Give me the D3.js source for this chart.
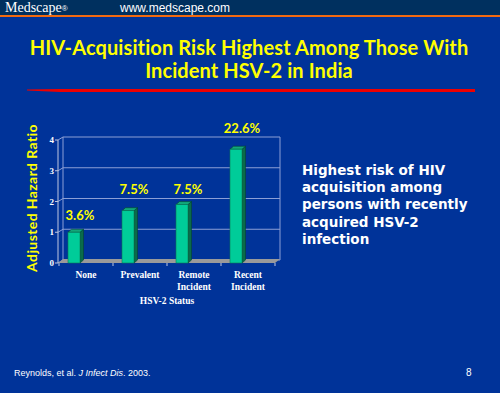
<!DOCTYPE html>
<html>
<head>
<meta charset="utf-8">
<script src="https://cdn.jsdelivr.net/npm/d3@7/dist/d3.min.js"></script>
<style>
  body { margin: 0; background: #003399; }
  svg { display: block; }
</style>
</head>
<body>
<script>
//chart data
var categories = [["None"], ["Prevalent"], ["Remote", "Incident"], ["Recent", "Incident"]];
var hazardRatios = [1.0, 1.7, 1.9, 3.7];
var riskLabels = ["3.6%", "7.5%", "7.5%", "22.6%"];
var labelLevels = [1.45, 2.3, 2.3, 4.3];
var yTicks = [0, 1, 2, 3, 4];

var titleLines = ["HIV-Acquisition Risk Highest Among Those With", "Incident HSV-2 in India"];
var noteLines = ["Highest risk of HIV", "acquisition among", "persons with recently", "acquired HSV-2", "infection"];

var width = 500,
    height = 393;

var svg = d3.select("body")
    .append("svg")
    .attr("width", width)
    .attr("height", height);

//slide background
svg.append("rect")
    .attr("width", width)
    .attr("height", height)
    .attr("fill", "#003399");

//header bar
svg.append("rect")
    .attr("width", width)
    .attr("height", 15)
    .attr("fill", "#00305f");
svg.append("rect")
    .attr("y", 15)
    .attr("width", width)
    .attr("height", 2)
    .attr("fill", "#f26a10");

var brand = svg.append("text")
    .attr("x", 5)
    .attr("y", 12)
    .attr("fill", "#fff")
    .style("font-family", "Liberation Serif")
    .style("font-size", "14px")
    .text("Medscape");
brand.append("tspan")
    .style("font-size", "8px")
    .style("font-family", "Liberation Sans")
    .attr("dy", -1)
    .text("®");

svg.append("text")
    .attr("x", 120)
    .attr("y", 12)
    .attr("fill", "#fff")
    .style("font-family", "Liberation Sans")
    .style("font-size", "12px")
    .text("www.medscape.com");

//title
svg.selectAll(".title")
    .data(titleLines)
    .enter()
    .append("text")
    .attr("class", "title")
    .attr("x", 249)
    .attr("y", function(d, i){ return 55 + i * 23; })
    .attr("text-anchor", "middle")
    .attr("fill", "#ffff00")
    .style("font-family", "Lato")
    .style("font-weight", "bold")
    .style("font-size", "20px")
    .style("letter-spacing", "0.1px")
    .text(function(d){ return d; });

//red rule under title
svg.append("path")
    .attr("d", "M27,89.6 L60,89 L475,89 L475,92 L60,92 L27,90.4 Z")
    .attr("fill", "#ee0000");

//plot geometry
var depth = 5, bDepth = 3.5, rise = 3;

var x = d3.scaleBand()
    .domain(d3.range(categories.length))
    .range([58, 274]);

var y = d3.scaleLinear()
    .domain([0, 4])
    .range([260, 137]);

var plot = svg.append("g");

//back wall gridlines
plot.selectAll(".grid")
    .data(yTicks)
    .enter()
    .append("line")
    .attr("class", "grid")
    .attr("x1", 58 + depth)
    .attr("x2", 280)
    .attr("y1", function(d){ return y(d); })
    .attr("y2", function(d){ return y(d); })
    .attr("stroke", "#8c9fd6")
    .attr("stroke-width", 1.2);

//side wall connectors
plot.selectAll(".side")
    .data(yTicks)
    .enter()
    .append("line")
    .attr("class", "side")
    .attr("x1", 58)
    .attr("x2", 58 + depth)
    .attr("y1", function(d){ return y(d) + rise; })
    .attr("y2", function(d){ return y(d); })
    .attr("stroke", "#8c9fd6");

plot.append("line")
    .attr("x1", 58 + depth).attr("x2", 58 + depth)
    .attr("y1", y(4)).attr("y2", y(0))
    .attr("stroke", "#8c9fd6");
plot.append("line")
    .attr("x1", 280).attr("x2", 280)
    .attr("y1", y(4)).attr("y2", y(0))
    .attr("stroke", "#8c9fd6");

//floor
plot.append("path")
    .attr("d", "M58," + (y(0) + rise) + "L" + (58 + depth) + "," + (y(0) - 1) +
        "L280," + (y(0) - 1) + "L275," + (y(0) + rise) + "Z")
    .attr("fill", "#9a9a9a");

//front y axis
plot.append("line")
    .attr("x1", 58).attr("x2", 58)
    .attr("y1", y(4) + rise).attr("y2", y(0) + rise)
    .attr("stroke", "#c0c8e0");

plot.selectAll(".ytick")
    .data(yTicks)
    .enter()
    .append("line")
    .attr("class", "ytick")
    .attr("x1", 55).attr("x2", 58)
    .attr("y1", function(d){ return y(d) + rise; })
    .attr("y2", function(d){ return y(d) + rise; })
    .attr("stroke", "#c0c8e0");

plot.selectAll(".ylab")
    .data(yTicks)
    .enter()
    .append("text")
    .attr("class", "ylab")
    .attr("x", 54)
    .attr("y", function(d){ return y(d) + rise + 3; })
    .attr("text-anchor", "end")
    .attr("fill", "#fff")
    .style("font-family", "Liberation Serif")
    .style("font-weight", "bold")
    .style("font-size", "9px")
    .text(function(d){ return d; });

//x ticks on floor front edge
plot.selectAll(".xtick")
    .data(d3.range(categories.length + 1))
    .enter()
    .append("line")
    .attr("class", "xtick")
    .attr("x1", function(d){ return 59 + d * x.bandwidth(); })
    .attr("x2", function(d){ return 59 + d * x.bandwidth(); })
    .attr("y1", y(0) + rise)
    .attr("y2", y(0) + rise + 3)
    .attr("stroke", "#c0c8e0");

//bars
var barW = 12;
var bars = plot.selectAll(".bar")
    .data(hazardRatios)
    .enter()
    .append("g")
    .attr("class", "bar");

function fx(i){ return x(i) + 10; }

bars.append("path")
    .attr("d", function(d, i){
        var x0 = fx(i) + barW, t = y(d) + rise, b = y(0) + rise;
        return "M" + x0 + "," + t + "L" + (x0 + bDepth) + "," + (t - rise) +
            "L" + (x0 + bDepth) + "," + (b - rise) + "L" + x0 + "," + b + "Z";
    })
    .attr("fill", "#0a6b4a")
    .attr("stroke", "#04452f")
    .attr("stroke-width", 0.6);

bars.append("path")
    .attr("d", function(d, i){
        var x0 = fx(i), t = y(d) + rise;
        return "M" + x0 + "," + t + "L" + (x0 + bDepth) + "," + (t - rise) +
            "L" + (x0 + barW + bDepth) + "," + (t - rise) + "L" + (x0 + barW) + "," + t + "Z";
    })
    .attr("fill", "#12a77a")
    .attr("stroke", "#04452f")
    .attr("stroke-width", 0.6);

bars.append("rect")
    .attr("x", function(d, i){ return fx(i); })
    .attr("y", function(d){ return y(d) + rise; })
    .attr("width", barW)
    .attr("height", function(d){ return y(0) - y(d); })
    .attr("fill", "#00cc99")
    .attr("stroke", "#0a7a55")
    .attr("stroke-width", 0.6);

//value labels
plot.selectAll(".val")
    .data(riskLabels)
    .enter()
    .append("text")
    .attr("class", "val")
    .attr("x", function(d, i){ return x(i) + x.bandwidth() / 2 - 5; })
    .attr("y", function(d, i){ return y(labelLevels[i]) + 5; })
    .attr("text-anchor", "middle")
    .attr("fill", "#ffff00")
    .style("font-family", "Lato")
    .style("font-weight", "bold")
    .style("font-size", "13px")
    .text(function(d){ return d; });

//category labels
var cats = plot.selectAll(".cat")
    .data(categories)
    .enter()
    .append("text")
    .attr("class", "cat")
    .attr("text-anchor", "middle")
    .attr("fill", "#fff")
    .style("font-family", "Liberation Serif")
    .style("font-weight", "bold")
    .style("font-size", "9.5px");

cats.selectAll("tspan")
    .data(function(d, i){ return d.map(function(s){ return {s: s, i: i}; }); })
    .enter()
    .append("tspan")
    .attr("x", function(d){ return x(d.i) + x.bandwidth() / 2 + 1; })
    .attr("y", function(d, j){ return 278 + j * 11.5; })
    .text(function(d){ return d.s; });

plot.append("text")
    .attr("x", 167)
    .attr("y", 304)
    .attr("text-anchor", "middle")
    .attr("fill", "#fff")
    .style("font-family", "Liberation Serif")
    .style("font-weight", "bold")
    .style("font-size", "9.5px")
    .text("HSV-2 Status");

//y axis title
svg.append("text")
    .attr("transform", "translate(36.5,198) rotate(-90)")
    .attr("text-anchor", "middle")
    .attr("fill", "#ffff00")
    .style("font-family", "Lato")
    .style("font-weight", "bold")
    .style("font-size", "14px")
    .style("letter-spacing", "0.4px")
    .text("Adjusted Hazard Ratio");

//side note
svg.selectAll(".note")
    .data(noteLines)
    .enter()
    .append("text")
    .attr("class", "note")
    .attr("x", 302)
    .attr("y", function(d, i){ return 175 + i * 17.2; })
    .attr("fill", "#fff")
    .style("font-family", "DejaVu Sans")
    .style("font-weight", "bold")
    .style("font-size", "13.5px")
    .text(function(d){ return d; });

//footer
var cite = svg.append("text")
    .attr("x", 14)
    .attr("y", 376)
    .attr("fill", "#fff")
    .style("font-family", "Liberation Sans")
    .style("font-size", "9px");
cite.append("tspan").text("Reynolds, et al. ");
cite.append("tspan").style("font-style", "italic").text("J Infect Dis");
cite.append("tspan").text(". 2003.");

svg.append("text")
    .attr("x", 466)
    .attr("y", 376)
    .attr("fill", "#fff")
    .style("font-family", "Liberation Sans")
    .style("font-size", "10px")
    .text("8");
</script>
</body>
</html>
